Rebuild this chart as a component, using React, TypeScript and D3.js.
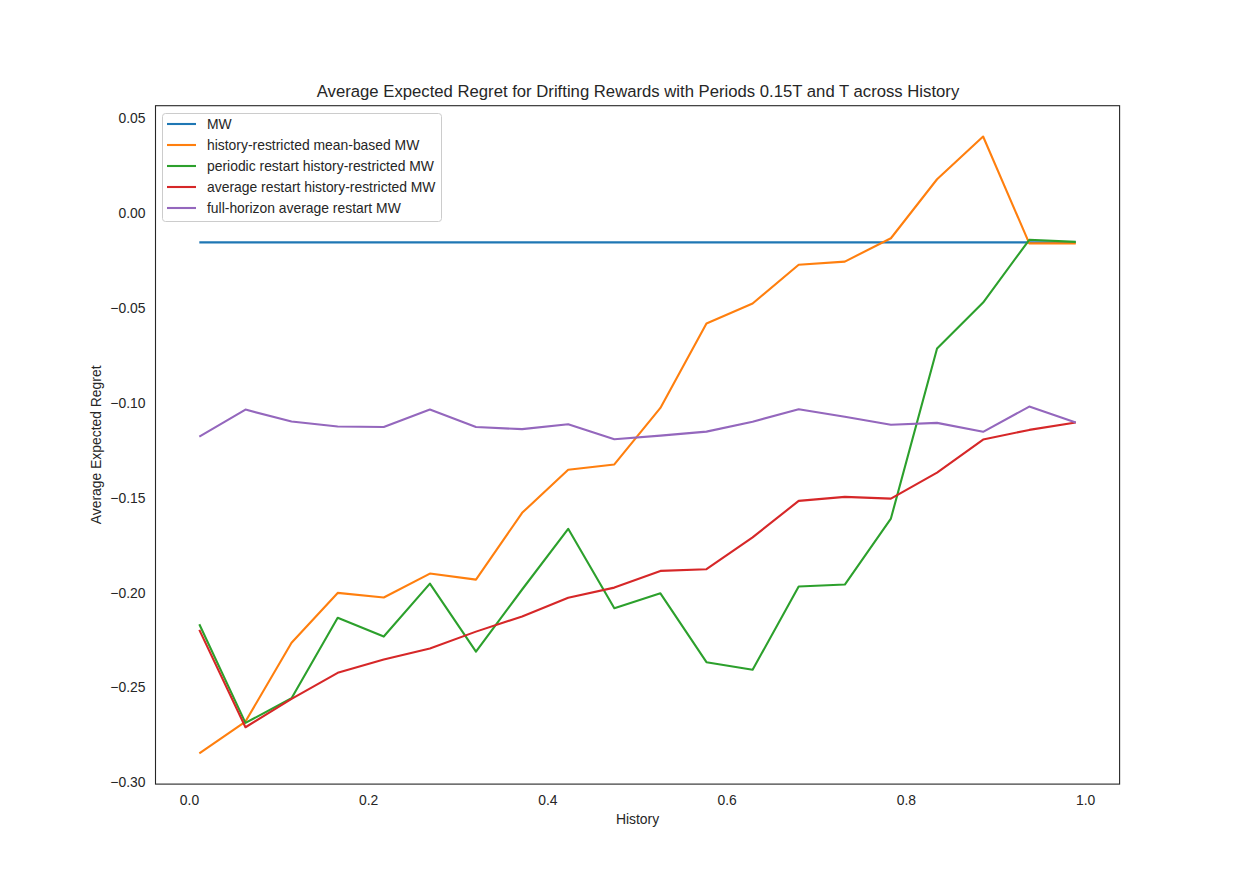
import React from "react";
import * as d3 from "d3";

const historyX = [0.011, 0.0625, 0.1139, 0.1654, 0.2168, 0.2683, 0.3197, 0.3712, 0.4226, 0.4741, 0.5255, 0.5769, 0.6284, 0.6798, 0.7313, 0.7827, 0.8342, 0.8856, 0.9371, 0.989];

const mwValues = [-0.0155, -0.0155, -0.0155, -0.0155, -0.0155, -0.0155, -0.0155, -0.0155, -0.0155, -0.0155, -0.0155, -0.0155, -0.0155, -0.0155, -0.0155, -0.0155, -0.0155, -0.0155, -0.0155, -0.0155];
const historyRestricted = [-0.2847, -0.268, -0.2265, -0.2002, -0.2026, -0.19, -0.1932, -0.158, -0.1353, -0.1325, -0.1027, -0.0582, -0.0477, -0.0273, -0.0256, -0.0133, 0.0178, 0.0403, -0.016, -0.016];
const periodicRestart = [-0.2167, -0.2687, -0.2557, -0.2133, -0.2232, -0.1953, -0.2311, -0.1984, -0.1664, -0.2083, -0.2004, -0.2367, -0.2407, -0.1968, -0.1958, -0.161, -0.0714, -0.0472, -0.0141, -0.0152];
const averageRestart = [-0.2197, -0.271, -0.256, -0.2423, -0.2353, -0.2295, -0.2206, -0.2126, -0.2028, -0.1974, -0.1886, -0.1877, -0.1709, -0.1517, -0.1496, -0.1505, -0.1368, -0.1194, -0.1143, -0.1104];
const fullHorizon = [-0.1178, -0.1036, -0.1099, -0.1125, -0.1128, -0.1036, -0.1128, -0.1139, -0.1113, -0.1192, -0.1173, -0.1152, -0.11, -0.1034, -0.1074, -0.1116, -0.1106, -0.1153, -0.102, -0.1104];

const seriesNames = [
  "MW",
  "history-restricted mean-based MW",
  "periodic restart history-restricted MW",
  "average restart history-restricted MW",
  "full-horizon average restart MW",
];
const seriesValues = [mwValues, historyRestricted, periodicRestart, averageRestart, fullHorizon];
const seriesColors = ["#1f77b4", "#ff7f0e", "#2ca02c", "#d62728", "#9467bd"];

const xTicks = [0.0, 0.2, 0.4, 0.6, 0.8, 1.0];
const yTicks = [0.05, 0.0, -0.05, -0.1, -0.15, -0.2, -0.25, -0.3];

const W = 1244;
const H = 881;
const left = 155.5;
const right = 1119.6;
const top = 105.7;
const bottom = 784.1;
const textColor = "#262626";
const font = "Arial, 'Liberation Sans', sans-serif";

function paddedDomain(vals: number[]): [number, number] {
  const [a, b] = d3.extent(vals) as [number, number];
  const m = (b - a) * 0.05;
  return [a - m, b + m];
}

export default function App() {
  const x = d3.scaleLinear().domain(paddedDomain(historyX)).range([left, right]);
  const allY = seriesValues.flat();
  const y = d3.scaleLinear().domain(paddedDomain(allY)).range([bottom, top]);
  const line = (vals: number[]) =>
    d3.line<number>().x((_, i) => x(historyX[i])).y((v) => y(v))(vals) || "";

  const legX = 162.5;
  const legY = 113.5;
  const legW = 279;
  const legH = 108;

  return (
    <svg width={W} height={H} style={{ position: "absolute", left: 0, top: 0 }} fontFamily={font}>
      <rect x={0} y={0} width={W} height={H} fill="#fff" />
      <text x={638} y={97} textAnchor="middle" fontSize={16.7} fill={textColor}>
        Average Expected Regret for Drifting Rewards with Periods 0.15T and T across History
      </text>
      <clipPath id="plotclip">
        <rect x={left} y={top} width={right - left} height={bottom - top} />
      </clipPath>
      <g clipPath="url(#plotclip)">
        {seriesValues.map((vals, i) => (
          <path key={i} d={line(vals)} fill="none" stroke={seriesColors[i]} strokeWidth={2.1} strokeLinejoin="round" strokeLinecap="butt" />
        ))}
      </g>
      <rect x={left} y={top} width={right - left} height={bottom - top} fill="none" stroke={textColor} strokeWidth={1.1} />
      {xTicks.map((t) => (
        <text key={t} x={x(t)} y={805} textAnchor="middle" fontSize={13.9} fill={textColor}>
          {t.toFixed(1)}
        </text>
      ))}
      {yTicks.map((t) => (
        <text key={t} x={145.5} y={y(t) + 5} textAnchor="end" fontSize={13.9} fill={textColor}>
          {(t < 0 ? "\u2212" : "") + Math.abs(t).toFixed(2)}
        </text>
      ))}
      <text x={(left + right) / 2} y={824} textAnchor="middle" fontSize={13.9} fill={textColor}>
        History
      </text>
      <text transform={`translate(101,${(top + bottom) / 2}) rotate(-90)`} textAnchor="middle" fontSize={13.9} fill={textColor}>
        Average Expected Regret
      </text>
      <rect x={legX} y={legY} width={legW} height={legH} rx={3} fill="#fff" fillOpacity={0.8} stroke="#cccccc" strokeWidth={1} />
      {seriesNames.map((name, i) => {
        const cy = 124 + i * 21;
        return (
          <g key={name}>
            <line x1={167} x2={196} y1={cy} y2={cy} stroke={seriesColors[i]} strokeWidth={2.1} />
            <text x={207} y={cy + 5} fontSize={13.9} fill={textColor}>
              {name}
            </text>
          </g>
        );
      })}
    </svg>
  );
}
